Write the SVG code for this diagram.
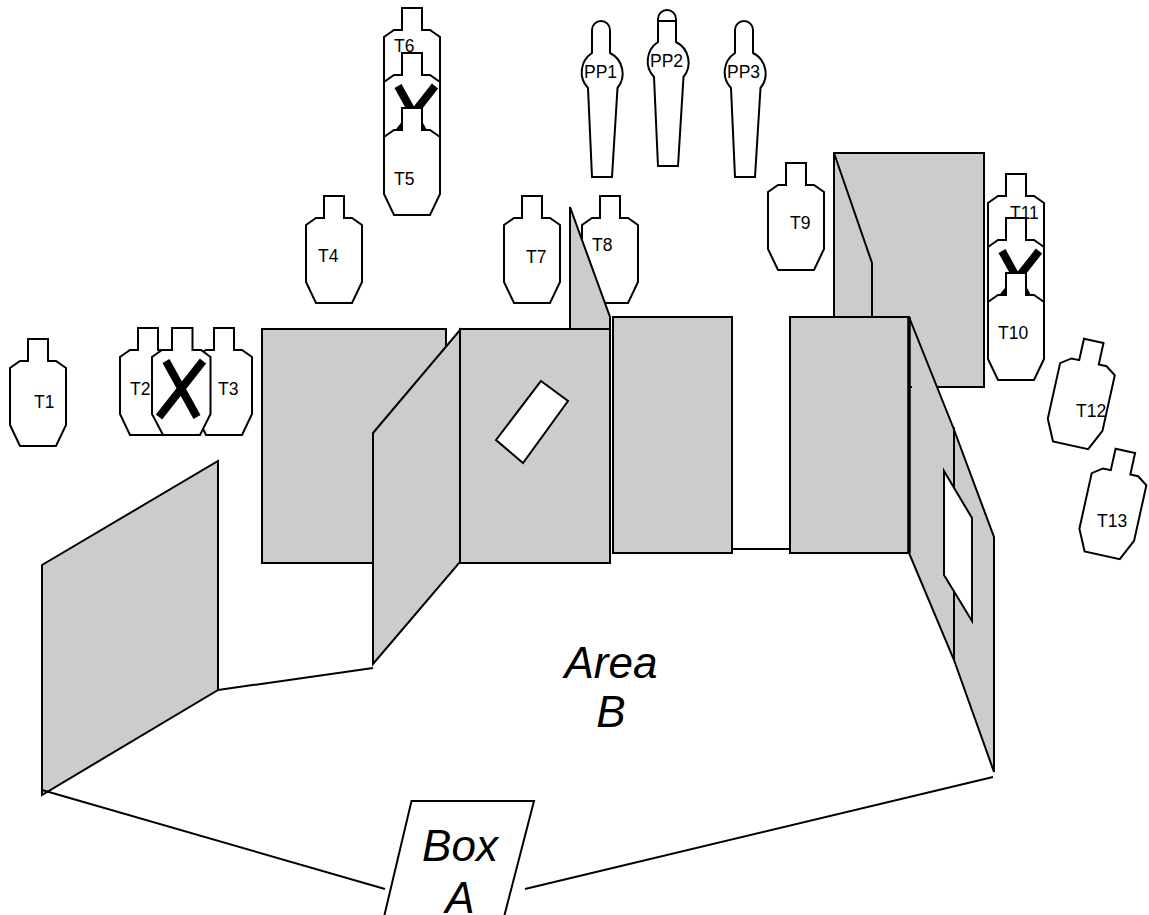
<svg xmlns="http://www.w3.org/2000/svg" xmlns:xlink="http://www.w3.org/1999/xlink" width="1149" height="915" viewBox="0 0 1149 915">
<style>
.s{stroke:#000;stroke-width:2;stroke-linejoin:miter}
.g{fill:#ccc}
.w{fill:#fff}
.n{fill:none}
.x{stroke:#000;stroke-width:8;fill:none}
.h{stroke:#000;stroke-width:3.500;fill:none}
text{font-family:"Liberation Sans",Arial,sans-serif;fill:#000}
.l{font-size:17.500px}
.p{font-size:17.500px}
.b{font-size:44px;font-style:italic;text-anchor:middle}
</style>
<defs>
<path id="t" class="s w" d="M18,0H38V22H46L56,29V86L46,107H10L0,86V29L10,22H18Z"/>
<path id="pp" class="s w" d="M592,53V30A9,9 0 0 1 610,30V53A23,23 0 0 1 617.500,88L612,177H592L588,88A23,23 0 0 1 592,53Z"/>
<g id="tx"><use xlink:href="#t"/><path class="x" d="M14,33L45,89M51,33L7,89"/></g>
</defs>
<rect width="1149" height="915" fill="#fff"/>
<g id="targets">
<g id="T1"><use xlink:href="#t" x="10" y="339"/><text class="l" x="34" y="408">T1</text></g>
<g id="T2"><use xlink:href="#t" x="120" y="328"/><text class="l" x="130" y="395">T2</text></g>
<g id="T3"><use xlink:href="#t" x="196" y="328"/><text class="l" x="218" y="395">T3</text></g>
<g id="Tx1"><path class="s w" d="M172,328H192.500V350H201L210.500,357V414L200,435H163L152,414V357L162,350H172Z"/><path class="x" d="M166,361L197,417M203,361L159,417"/></g>
<g id="T4"><use xlink:href="#t" x="306" y="196"/><text class="l" x="318" y="262">T4</text></g>
<g id="T6"><use xlink:href="#t" x="384" y="8"/><text class="l" x="394" y="52">T6</text></g>
<g id="Tx2"><use xlink:href="#tx" x="384" y="53"/></g>
<g id="T5"><use xlink:href="#t" x="384" y="108"/><text class="l" x="394" y="185">T5</text></g>
<g id="T7"><use xlink:href="#t" x="504" y="196"/><text class="l" x="526" y="263">T7</text></g>
<g id="T8"><use xlink:href="#t" x="582" y="196"/><text class="l" x="592" y="251">T8</text></g>
<g id="T9"><use xlink:href="#t" x="768" y="163"/><text class="l" x="790" y="229">T9</text></g>
<g id="T11"><use xlink:href="#t" x="988" y="174"/></g>
<g id="Tx3"><use xlink:href="#tx" x="988" y="218"/></g>
<text id="T11-label" class="l" x="1010" y="219">T11</text>
<g id="T10"><use xlink:href="#t" x="988" y="273"/><text class="l" x="998" y="339">T10</text></g>
<g id="T12"><use xlink:href="#t" transform="translate(1066.400,334.800) rotate(12.500)"/><text class="l" x="1076" y="417">T12</text></g>
<g id="T13"><use xlink:href="#t" transform="translate(1098,444.800) rotate(12.500)"/><text class="l" x="1097" y="527">T13</text></g>
<g id="PP1"><use xlink:href="#pp"/><text class="p" x="584" y="78">PP1</text></g>
<g id="PP2"><use xlink:href="#pp" x="66" y="-11"/><path class="s n" d="M658,21H676"/><text class="p" x="650" y="67">PP2</text></g>
<g id="PP3"><use xlink:href="#pp" x="143"/><text class="p" x="727" y="78">PP3</text></g>
</g>
<g id="panels">
<rect id="back-right" class="s g" x="834" y="153" width="150" height="234"/>
<path id="back-right-fold" class="s g" d="M834,153L872,263V318H834Z"/>
<rect id="panel-1" class="s g" x="262" y="329" width="184" height="234"/>
<path id="panel-left" class="s g" d="M42,565L218,461V690L42,795Z"/>
<path id="panel-angled" class="s g" d="M373,433L460,330V562L373,664Z"/>
<path id="panel-top" class="s g" d="M570,207L610,317V329H570Z"/>
<rect id="panel-2" class="s g" x="460" y="329" width="150" height="234"/>
<path id="window-1" class="s w" d="M541,381L568,401L523,463L496,440Z"/>
<rect id="panel-3" class="s g" x="613" y="317" width="119" height="236"/>
<rect id="panel-4" class="s g" x="790" y="317" width="119" height="236"/>
<path id="panel-right" class="s g" d="M909,317L953,427L994,537V772L954,660L909,553Z"/>
<path id="panel-right-edge" class="h" d="M909,317V553"/>
<path id="panel-right-fold" class="s n" d="M954,427V660M909,387H912"/>
<path id="window-2" class="s w" d="M944,471L972,518V621L944,575Z"/>
</g>
<g id="connectors">
<path class="s n" d="M218,690L373,668M732,549H790M42,790L385,889M525,889L993,777"/>
</g>
<g id="box-a">
<path class="s w" d="M411.500,801H534L504,917H384Z"/>
<text class="b" x="460" y="861">Box</text>
<text class="b" x="460" y="913">A</text>
</g>
<g id="area-b">
<text class="b" x="611" y="678">Area</text>
<text class="b" x="611" y="727">B</text>
</g>
</svg>
